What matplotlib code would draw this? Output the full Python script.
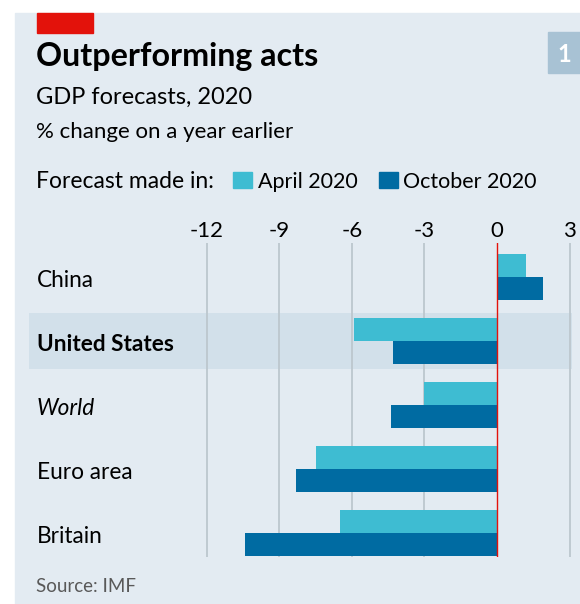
import matplotlib
matplotlib.use("Agg")
import matplotlib.pyplot as plt
from matplotlib.patches import Rectangle

plt.rcParams['font.family'] = ['Lato', 'DejaVu Sans']

# data
countries = ["China", "United States", "World", "Euro area", "Britain"]
april_2020 = [1.2, -5.9, -3.0, -7.5, -6.5]
october_2020 = [1.9, -4.3, -4.4, -8.3, -10.4]
xticks = [-12, -9, -6, -3, 0, 3]

W, H = 580, 604
BG = "#e3ebf2"
BAND = "#d2e0ea"
CYAN = "#3ebcd2"
BLUE = "#006ba2"
RED = "#e3120b"
GRID = "#bcc7ce"


def fx(x):
    return x / W


def fy(y):
    return 1 - y / H


fig = plt.figure(figsize=(W / 100, H / 100), dpi=100)
fig.patch.set_facecolor("white")

# panel background, red tag and the number box
fig.add_artist(Rectangle((fx(15), 0), 1 - fx(15), fy(13), transform=fig.transFigure,
                         color=BG, zorder=0))
fig.add_artist(Rectangle((fx(37), fy(33)), fx(56), 20 / H, transform=fig.transFigure,
                         color=RED, zorder=1))
fig.add_artist(Rectangle((fx(548), fy(73)), fx(32), 41 / H, transform=fig.transFigure,
                         color="#a8c2d4", zorder=1))
fig.text(fx(564), fy(62), "1", color="white", fontsize=17, fontweight="bold",
         ha="center", va="baseline")

fig.text(fx(36), fy(66), "Outperforming acts", fontsize=23.2, fontweight="bold",
         va="baseline")
fig.text(fx(36), fy(104), "GDP forecasts, 2020", fontsize=17, va="baseline")
fig.text(fx(36), fy(138), "% change on a year earlier", fontsize=16, va="baseline")

# legend row
fig.text(fx(36), fy(188), "Forecast made in:", fontsize=16.5, va="baseline")
fig.add_artist(Rectangle((fx(233), fy(188)), fx(19), 16 / H, transform=fig.transFigure,
                         color=CYAN))
fig.text(fx(258), fy(188), "April 2020", fontsize=15.5, va="baseline")
fig.add_artist(Rectangle((fx(379), fy(188)), fx(19), 16 / H, transform=fig.transFigure,
                         color=BLUE))
fig.text(fx(403), fy(188), "October 2020", fontsize=15.5, va="baseline")

fig.text(fx(36), fy(592), "Source: IMF", fontsize=13.5, color="#595959", va="baseline")

# bar chart axes: x px 29..572, y px 243..557
ax = fig.add_axes([fx(29), fy(557), fx(543), 314 / H])
ax.set_facecolor("none")
ppu = 24.2  # pixels per percentage point
ax.set_xlim((29 - 497) / ppu, (572 - 497) / ppu)
ax.set_ylim(280 / 64, -34 / 64)
for s in ax.spines.values():
    s.set_visible(False)
ax.set_xticks([])
ax.set_yticks([])

ax.axhspan(1 - 0.43, 1 + 0.43, color=BAND, zorder=0, lw=0)
for t in xticks:
    if t != 0:
        ax.axvline(t, color=GRID, lw=1.3, zorder=1)
    ax.text(t, -40 / 64, str(t), fontsize=16, ha="center", va="baseline")

ys = range(len(countries))
h = 0.352
ax.barh([y - h / 2 for y in ys], april_2020, height=h, color=CYAN, zorder=2, lw=0)
ax.barh([y + h / 2 for y in ys], october_2020, height=h, color=BLUE, zorder=2, lw=0)
ax.axvline(0, color=RED, lw=1.0, zorder=3)

styles = {"United States": ("bold", "normal"), "World": ("normal", "italic")}
lx = (37 - 497) / ppu
for y, name in zip(ys, countries):
    w, st = styles.get(name, ("normal", "normal"))
    ax.text(lx, y + 10 / 64, name, fontsize=16.3, fontweight=w, fontstyle=st,
            ha="left", va="baseline")

fig.savefig("out.png", dpi=100)
